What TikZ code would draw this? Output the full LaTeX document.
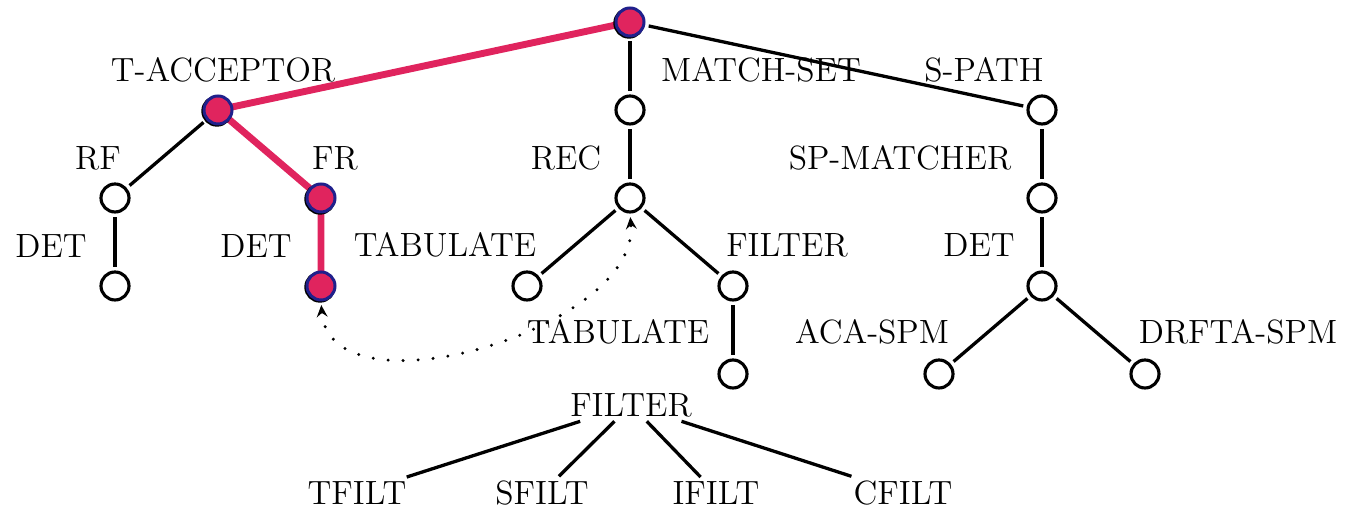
\documentclass[tikz,border=0pt]{standalone}
\usetikzlibrary{arrows.meta,backgrounds}
\definecolor{hired}{RGB}{224,36,94}
\definecolor{hiblue}{RGB}{32,32,140}
\begin{document}
\begin{tikzpicture}[x=0.3333pt,y=-0.3333pt,
  circ/.style={circle,draw=black,line width=1.05pt,minimum size=9.33pt,inner sep=0pt,fill=white},
  hot/.style={circle,draw=hiblue,line width=1pt,minimum size=9.33pt,inner sep=0pt,fill=hired,
    preaction={draw=black,line width=1.1pt,transform canvas={shift={(-0.35pt,-0.35pt)}}}},
  lab/.style={font=\fontsize{11.2}{13}\selectfont,inner sep=1.3pt},
  tedge/.style={line width=1.1pt,shorten <=1.2pt,shorten >=1.2pt},
  ledge/.style={line width=1.1pt},
  hotedge/.style={draw=hired,line width=2.3pt},
  link/.style={line width=1.1pt,line cap=round,dash pattern=on 0pt off 5pt,
    {Stealth[length=4pt,width=3.6pt,inset=1.4pt]}-{Stealth[length=4pt,width=3.6pt,inset=1.4pt]}}]
\useasboundingbox (0,0) rectangle (1359,509);

% tree nodes
\node[hot]  (root)  at (630,22)   {};
\node[hot]  (tacc)  at (218,110)  {};
\node[circ] (mset)  at (630,110)  {};
\node[circ] (spath) at (1042,110) {};
\node[circ] (rf)    at (115,198)  {};
\node[hot]  (fr)    at (321,198)  {};
\node[circ] (rec)   at (630,198)  {};
\node[circ] (spm)   at (1042,198) {};
\node[circ] (det1)  at (115,286)  {};
\node[hot]  (det2)  at (321,286)  {};
\node[circ] (tab)   at (527,286)  {};
\node[circ] (filt)  at (733,286)  {};
\node[circ] (det3)  at (1042,286) {};
\node[circ] (filtc) at (733,374)  {};
\node[circ] (aca)   at (939,374)  {};
\node[circ] (drf)   at (1145,374) {};

% labels
\node[lab] (ltacc)  at (223,70)  {T-ACCEPTOR};
\node[lab] (lmset)  at (761,70)  {MATCH-SET};
\node[lab] (lspath) at (984,70)  {S-PATH};
\node[lab] (lrf)    at (98,158)  {RF};
\node[lab] (lfr)    at (335,158) {FR};
\node[lab] (lrec)   at (566,158) {REC};
\node[lab] (lspm)   at (900,158) {SP-MATCHER};
\node[lab] (ldet1)  at (51,246)  {DET};
\node[lab] (ldet2)  at (256,246) {DET};
\node[lab] (ltab)   at (445,245) {TABULATE};
\node[lab] (lfilt)  at (787,245) {FILTER};
\node[lab] (ldet3)  at (979,245) {DET};
\node[lab] (ltab2)  at (618,332) {TABULATE};
\node[lab] (laca)   at (872,332) {ACA-SPM};
\node[lab] (ldrf)   at (1238,332) {DRFTA-SPM};
\node[lab] (fhead)  at (631,405) {FILTER};
\node[lab] (tf)     at (357,493) {TFILT};
\node[lab] (sf)     at (542,493) {SFILT};
\node[lab] (if)     at (716,493) {IFILT};
\node[lab] (cf)     at (903,493) {CFILT};

% highlighted path
\begin{pgfonlayer}{background}
  \draw[hotedge] (root.center) -- (tacc.center) -- (fr.center) -- (det2.center);
\end{pgfonlayer}

% ordinary edges
\draw[tedge] (root) -- (mset);
\draw[tedge] (root) -- (spath);
\draw[tedge] (tacc) -- (rf);
\draw[tedge] (rf) -- (det1);
\draw[tedge] (mset) -- (rec);
\draw[tedge] (rec) -- (tab);
\draw[tedge] (rec) -- (filt);
\draw[tedge] (filt) -- (filtc);
\draw[tedge] (spath) -- (spm);
\draw[tedge] (spm) -- (det3);
\draw[tedge] (det3) -- (aca);
\draw[tedge] (det3) -- (drf);

% filter subtree
\draw[ledge] (fhead) -- (tf);
\draw[ledge] (fhead) -- (sf);
\draw[ledge] (fhead) -- (if);
\draw[ledge] (fhead) -- (cf);

% dotted link
\draw[link,shorten <=1.2pt,shorten >=1.2pt] (det2.south) .. controls +(9,118) and +(10,116) .. (rec.south);
\end{tikzpicture}
\end{document}
